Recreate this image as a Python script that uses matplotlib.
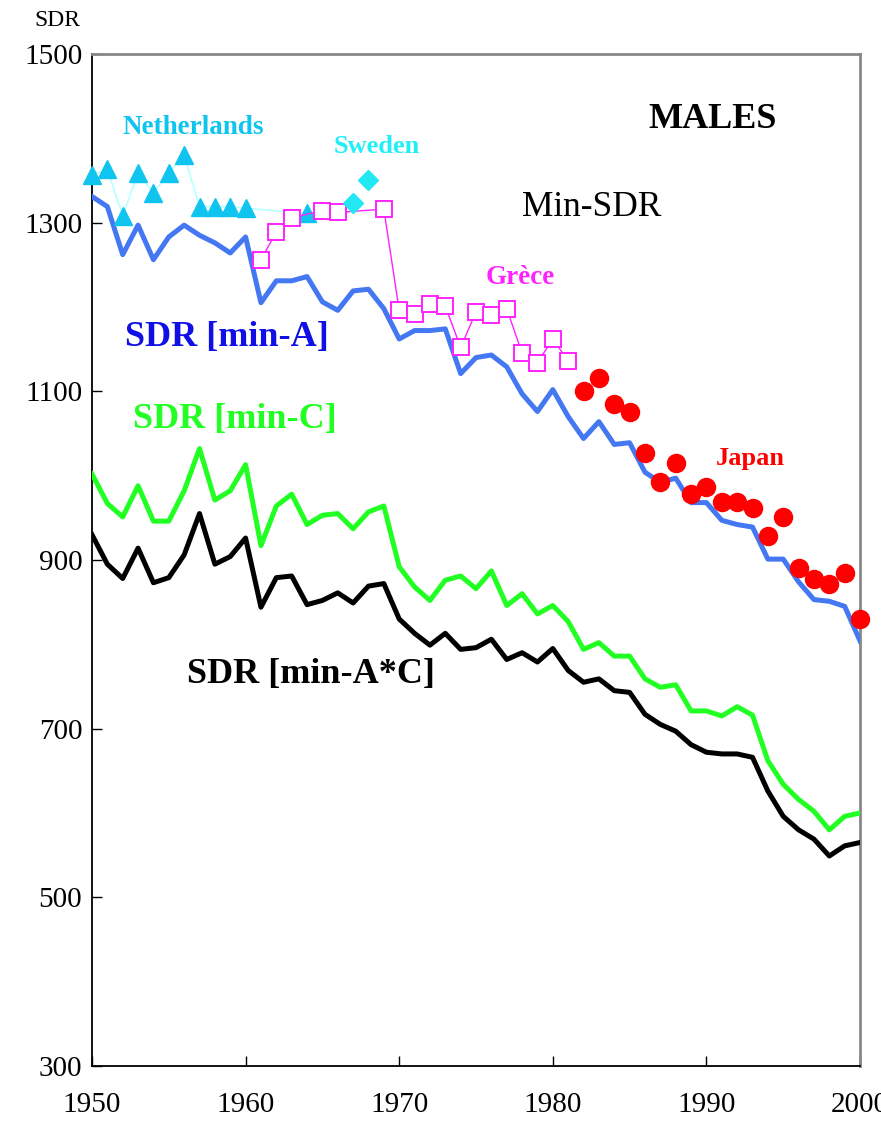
import numpy as np
import matplotlib.pyplot as plt

plt.rcParams['font.family'] = ['Liberation Serif', 'DejaVu Serif']

# --- data ---
years = list(range(1950, 2001))

sdr_min_a = [1331, 1319, 1262, 1297, 1256, 1283, 1297, 1285, 1276, 1264,
             1283, 1205, 1231, 1231, 1236, 1206, 1196, 1219, 1221, 1198,
             1162, 1172, 1172, 1174, 1121, 1140, 1143, 1129, 1097, 1076,
             1102, 1070, 1044, 1064, 1037, 1039, 1004, 992, 997, 968,
             968, 947, 942, 939, 901, 901, 874, 853, 851, 845, 804]

sdr_min_c = [1002, 967, 951, 988, 946, 946, 982, 1032, 971, 982,
             1013, 917, 964, 978, 942, 953, 955, 937, 957, 964,
             892, 868, 852, 876, 881, 866, 887, 846, 860, 836,
             846, 827, 794, 802, 786, 786, 759, 749, 752, 721,
             721, 715, 726, 716, 662, 634, 616, 602, 580, 596, 600]

sdr_min_ac = [930, 895, 878, 914, 873, 879, 906, 955, 895, 904,
              926, 844, 879, 881, 847, 852, 861, 849, 869, 872,
              830, 813, 799, 813, 794, 796, 806, 782, 790, 779,
              795, 769, 755, 759, 745, 743, 717, 705, 697, 681,
              672, 670, 670, 666, 626, 596, 580, 569, 549, 561, 565]

nl_years = [1950, 1951, 1952, 1953, 1954, 1955, 1956, 1957, 1958, 1959, 1960, 1964]
nl_vals = [1357, 1363, 1308, 1359, 1335, 1359, 1380, 1319, 1319, 1319, 1317, 1311]

se_years = [1967, 1968]
se_vals = [1323, 1351]

gr_years = [1961, 1962, 1963, 1965, 1966, 1969, 1970, 1971, 1972, 1973,
            1974, 1975, 1976, 1977, 1978, 1979, 1980, 1981]
gr_vals = [1256, 1289, 1306, 1314, 1312, 1316, 1196, 1192, 1203, 1201,
           1152, 1194, 1190, 1198, 1145, 1134, 1162, 1136]

jp_years = list(range(1982, 2001))
jp_vals = [1100, 1116, 1085, 1075, 1027, 992, 1015, 978, 987, 969,
           969, 962, 929, 951, 890, 878, 871, 885, 830]

fig = plt.figure(figsize=(8.81, 11.26), dpi=100)
ax = fig.add_axes([0.1044, 0.0533, 0.8718, 0.8988])

# main SDR curves
ax.plot(years, sdr_min_ac, color='black', lw=3.6, zorder=3)
ax.plot(years, sdr_min_c, color='#22ff22', lw=3.6, zorder=3)
ax.plot(years, sdr_min_a, color='#4477f2', lw=3.6, zorder=3)

# country minima
ax.plot(nl_years, nl_vals, color='#b8ffff', lw=1.2, marker='^', ms=13,
        mfc='#10c4f0', mec='#10c4f0', zorder=4, clip_on=False)
ax.plot(gr_years, gr_vals, color='#ff22ff', lw=1.0, marker='s', ms=11,
        mfc='white', mec='#ff22ff', mew=1.4, zorder=5)
ax.plot(se_years, se_vals, ls='none', marker='D', ms=10,
        mfc='#22e8f4', mec='#22e8f4', zorder=5)
ax.plot(jp_years, jp_vals, ls='none', marker='o', ms=13,
        mfc='#ff0000', mec='#ff0000', zorder=5, clip_on=False)

ax.set_xlim(1950, 2000)
ax.set_ylim(300, 1500)
ax.set_xticks(range(1950, 2001, 10))
ax.set_yticks(range(300, 1501, 200))
ax.tick_params(direction='in', length=7, width=1, labelsize=21)
ax.tick_params(axis='x', pad=19)
ax.tick_params(axis='y', pad=7)

for s in ['top', 'right']:
    ax.spines[s].set_color('#888888')
    ax.spines[s].set_linewidth(2)
for s in ['left', 'bottom']:
    ax.spines[s].set_linewidth(1.3)

# labels
fig.text(0.065, 0.982, 'SDR', fontsize=17, ha='center', va='center')
ax.text(1990.4, 1422, 'MALES', fontsize=26, fontweight='bold', ha='center', va='center')
ax.text(1982.55, 1318, 'Min-SDR', fontsize=25.5, ha='center', va='center')
ax.text(1952.0, 1413, 'Netherlands', fontsize=19.5, fontweight='bold', color='#10c4f0', va='center')
ax.text(1965.7, 1390, 'Sweden', fontsize=19, fontweight='bold', color='#22eef6', va='center')
ax.text(1975.65, 1235, 'Grèce', fontsize=19.5, fontweight='bold', color='#ff22ff', va='center')
ax.text(1990.6, 1020, 'Japan', fontsize=19, fontweight='bold', color='#ff0000', va='center')
ax.text(1952.15, 1164, 'SDR [min-A]', fontsize=26, fontweight='bold', color='#1010e6', va='center')
ax.text(1952.67, 1066, 'SDR [min-C]', fontsize=26, fontweight='bold', color='#22ff22', va='center')
ax.text(1956.2, 764, 'SDR [min-A*C]', fontsize=26, fontweight='bold', color='black', va='center')

fig.savefig('out.png', dpi=100)
